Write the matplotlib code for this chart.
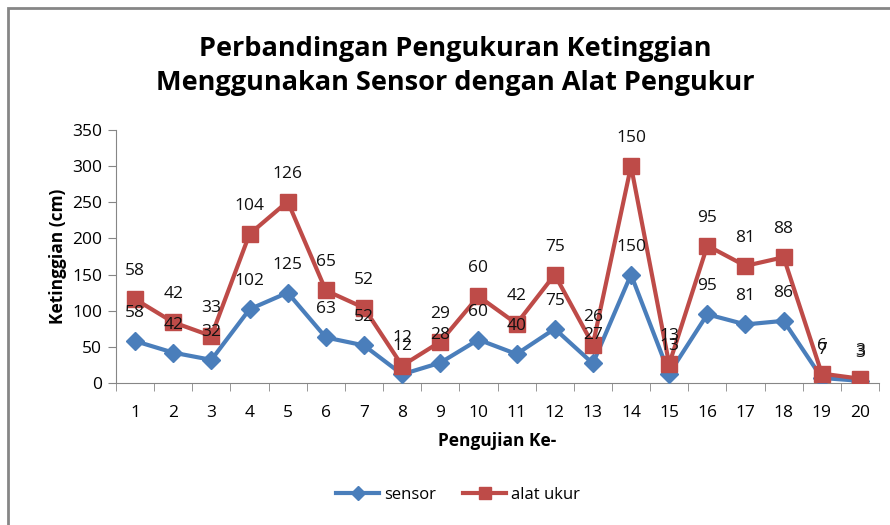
import matplotlib.pyplot as plt
import matplotlib.patches as mpatches
import numpy as np

trials = list(range(1, 21))
sensor = [58, 42, 32, 102, 125, 63, 52, 12, 28, 60, 40, 75, 27, 150, 13, 95, 81, 86, 7, 3]
alat_ukur = [58, 42, 33, 104, 126, 65, 52, 12, 29, 60, 42, 75, 26, 150, 13, 95, 81, 88, 6, 3]

# stacked line chart (Excel style): red line sits on top of blue
stacked = np.array(sensor) + np.array(alat_ukur)

plt.rcParams['font.family'] = ['Open Sans', 'DejaVu Sans']

fig = plt.figure(figsize=(8.9, 5.25), dpi=100)
ax = fig.add_axes([116/890, 1 - 383/525, 763/890, 253/525])

blue = '#4A7EBB'
red = '#BE4B48'
x = np.arange(len(trials))

ax.plot(x, sensor, color=blue, lw=3, marker='D', ms=9, label='sensor', zorder=3)
ax.plot(x, stacked, color=red, lw=3, marker='s', ms=11, label='alat ukur', zorder=4)

for xi, yv, lab in zip(x, sensor, sensor):
    ax.annotate(str(lab), (xi, yv), xytext=(0, 28), textcoords='offset pixels',
                ha='center', va='center', fontsize=12.5, color='#111111', zorder=5)
for xi, yv, lab in zip(x, stacked, alat_ukur):
    ax.annotate(str(lab), (xi, yv), xytext=(0, 28), textcoords='offset pixels',
                ha='center', va='center', fontsize=12.5, color='#111111', zorder=5)

ax.set_xlim(-0.5, len(trials) - 0.5)
ax.set_ylim(0, 350)
ax.set_yticks(range(0, 351, 50))
ax.set_xticks(x)
ax.set_xticklabels([str(t) for t in trials])
ax.set_xticks(np.arange(-0.5, len(trials), 1), minor=True)
ax.tick_params(axis='x', which='major', length=0, labelsize=12.5, pad=16)
ax.tick_params(axis='x', which='minor', length=6, color='#868686', direction='out')
ax.tick_params(axis='y', length=6, color='#868686', direction='out', labelsize=12.5, pad=4)
for s in ['top', 'right']:
    ax.spines[s].set_visible(False)
for s in ['left', 'bottom']:
    ax.spines[s].set_color('#868686')
ax.set_xlabel('Pengujian Ke-', fontsize=12.5, fontweight='bold', labelpad=8)
ax.set_ylabel('Ketinggian (cm)', fontsize=12.5, fontweight='bold', labelpad=4)

fig.text(455/890, 1 - 66/525, 'Perbandingan Pengukuran Ketinggian\nMenggunakan Sensor dengan Alat Pengukur',
         ha='center', va='center', fontsize=19.5, fontweight='bold', linespacing=1.45)

fig.legend(handles=ax.get_lines(), loc='center', bbox_to_anchor=(458/890, 1 - 495/525),
           ncol=2, frameon=False, fontsize=12, handlelength=2.6, handletextpad=0.3,
           columnspacing=1.6, markerscale=0.8)

fig.patches.append(mpatches.Rectangle((8/890, -0.1), 1.2, 1 - 8/525 + 0.1, transform=fig.transFigure,
                                      fill=False, edgecolor='#868686', lw=2))

fig.savefig('out.png', dpi=100)
